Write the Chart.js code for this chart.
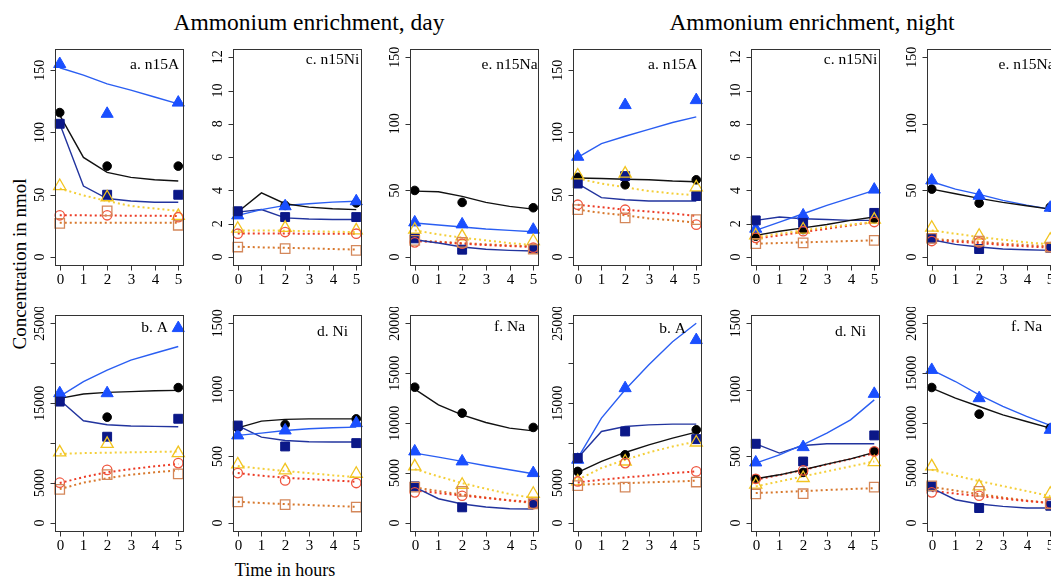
<!DOCTYPE html>
<html><head><meta charset="utf-8">
<script src="https://cdn.jsdelivr.net/npm/chart.js@4"></script>
<style>
body{margin:0;background:#fff;}
#wrap{position:relative;width:1051px;height:581px;overflow:hidden;background:#fff;font-family:"Liberation Serif","Times New Roman",serif;color:#000;}
#wrap canvas{position:absolute;}
.txt{position:absolute;white-space:nowrap;line-height:1;}
</style></head><body>
<div id="wrap">
  <div class="txt" id="tDay" style="left:309px;top:11px;font-size:23.5px;transform:translateX(-50%);">Ammonium enrichment, day</div>
  <div class="txt" id="tNight" style="left:812px;top:11px;font-size:23.5px;transform:translateX(-50%);">Ammonium enrichment, night</div>
  <div class="txt" style="left:19px;top:264px;font-size:19px;transform:translate(-50%,-50%) rotate(-90deg);">Concentration in nmol</div>
  <div class="txt" style="left:285px;top:570px;font-size:18px;transform:translate(-50%,-50%);">Time in hours</div>
</div>
<script>
// ---------- data ----------
const timeObs = [0, 2, 5];
const timeFit = [0, 1, 2, 3, 4, 5];
const xTicks = [0, 1, 2, 3, 4, 5];
const seriesKeys = ['black', 'blue', 'navy', 'gold', 'red', 'orange'];
const panelLabels = ['a. n15A', 'c. n15Ni', 'e. n15Na', 'a. n15A', 'c. n15Ni', 'e. n15Na',
                     'b. A', 'd. Ni', 'f. Na', 'b. A', 'd. Ni', 'f. Na'];

const ticksN15A = [0, 50, 100, 150];
const ticksN15Ni = [0, 2, 4, 6, 8, 10, 12];
const ticksN15Na = [0, 50, 100, 150];
const ticksA = [0, 5000, 10000, 15000, 20000, 25000];
const labelsA = [0, 5000, 15000, 25000];
const ticksNi = [0, 500, 1000, 1500];
const ticksNa = [0, 5000, 10000, 15000, 20000];

// observations at timeObs, order: black, blue, navy, gold, red, orange
const p1Obs = [[116, 73, 73], [155, 115, 124], [107, 50, 50], [57, 48, 33], [33.5, 33.5, 32], [27, 37, 25.5]];
const p1Fit = [[114, 80, 68, 64, 62, 61], [152, 146, 139, 134, 128.5, 123], [107, 57, 47, 45, 44, 44],
               [55, 49.5, 45, 41, 39, 37], [33.5, 33.5, 33.3, 33.2, 33.1, 33], [27.5, 27.5, 27.5, 27.5, 27.5, 27.5]];
const p2Obs = [[2.7, 3.1, 3.25], [2.5, 3.05, 3.35], [2.75, 2.4, 2.4], [1.7, 1.75, 1.6], [1.4, 1.5, 1.4], [0.6, 0.5, 0.4]];
const p2Fit = [[2.7, 3.85, 3.2, 3.0, 2.9, 2.85], [2.5, 2.85, 3.1, 3.2, 3.3, 3.35], [2.7, 2.85, 2.35, 2.28, 2.25, 2.25],
               [1.6, 1.6, 1.58, 1.55, 1.52, 1.5], [1.42, 1.42, 1.41, 1.4, 1.4, 1.4], [0.62, 0.58, 0.55, 0.52, 0.48, 0.45]];
const p3Obs = [[50, 41, 37], [26, 24.5, 20.5], [14, 5.5, 6], [20.5, 15.5, 12], [11, 10, 7], [12.5, 11, 6]];
const p3Fit = [[49.5, 49, 45.5, 41, 38, 36], [25.5, 24, 22.5, 21, 20, 19], [13, 10.5, 7.5, 5.8, 5, 4.5],
               [20, 17, 14.5, 12.5, 10.5, 9], [12, 11, 10, 9, 8.2, 7.5], [12.5, 11.5, 10.5, 9.5, 8.7, 8]];
const p4Obs = [[64, 58, 62], [80.5, 122, 126], [59, 65, 49], [65.5, 67, 56], [42, 38, 26], [38, 31.5, 30]];
const p4Fit = [[63.5, 63, 62.5, 62, 61, 60.5], [80, 91, 97, 102.5, 108, 112.5], [59, 47.7, 46, 45, 45, 45],
               [63, 59, 56, 53, 51, 49.5], [42, 40, 38, 36.5, 35, 33], [38, 35.5, 33.5, 31, 29.5, 27.5]];
const p5Obs = [[1.25, 1.65, 2.3], [1.7, 2.5, 4.05], [2.2, 2.05, 2.65], [1.3, 1.65, 2.25], [1.15, 1.55, 2.1], [0.8, 0.85, 1.0]];
const p5Fit = [[1.3, 1.55, 1.75, 1.95, 2.2, 2.4], [1.6, 2.1, 2.6, 3.1, 3.55, 4.0], [2.2, 2.4, 2.3, 2.25, 2.2, 2.2],
               [1.2, 1.4, 1.6, 1.8, 1.95, 2.1], [1.1, 1.3, 1.5, 1.7, 1.9, 2.1], [0.8, 0.84, 0.88, 0.92, 0.96, 1.0]];
const p6Obs = [[51, 40.5, 37.5], [57.5, 46, 37], [14, 6, 7], [22, 16, 13], [12, 11, 7.5], [14, 12, 7.5]];
const p6Fit = [[51, 47.5, 44, 41, 38.5, 36], [56.5, 51, 47, 42.5, 39, 36], [13, 9.5, 7.5, 6, 5.5, 5],
               [20, 17.5, 15, 13, 11, 9.5], [12.5, 11.5, 10.5, 9, 8, 7], [13.5, 12.5, 11.5, 10, 9, 8]];
const p7Obs = [[15500, 13250, 16950], [16250, 16250, 24400], [15200, 10800, 13050], [8850, 9900, 8750], [5050, 6650, 7500], [4200, 6050, 6150]];
const p7Fit = [[15600, 16150, 16350, 16450, 16550, 16600], [15850, 17700, 19150, 20400, 21250, 22100], [15400, 12800, 12300, 12150, 12100, 12050],
               [8650, 8750, 8800, 8850, 8900, 8950], [5000, 5750, 6350, 6750, 7100, 7400], [4250, 5050, 5600, 6050, 6350, 6600]];
const p8Obs = [[715, 740, 782], [658, 695, 750], [732, 575, 600], [440, 395, 370], [375, 320, 300], [158, 138, 120]];
const p8Fit = [[715, 765, 778, 782, 782, 782], [658, 675, 695, 708, 715, 720], [732, 645, 620, 610, 608, 608],
               [428, 408, 390, 375, 358, 345], [375, 355, 340, 330, 320, 310], [160, 150, 142, 135, 128, 122]];
const p9Obs = [[13600, 11000, 9570], [7170, 6170, 5000], [3670, 1570, 1900], [5670, 3830, 2930], [3070, 2730, 1900], [3600, 3170, 1930]];
const p9Fit = [[13400, 11830, 10830, 10070, 9500, 9230], [7000, 6600, 6170, 5730, 5330, 4930], [3600, 2430, 1900, 1600, 1430, 1400],
               [5400, 4670, 4000, 3430, 2900, 2500], [3270, 3000, 2750, 2500, 2280, 2070], [3570, 3200, 2850, 2550, 2250, 2000]];
const p10Obs = [[6460, 8540, 11670], [7920, 16880, 22900], [8130, 11460, 10500], [5200, 7700, 10080], [5200, 7500, 6460], [4670, 4500, 5130]];
const p10Fit = [[6330, 7710, 8830, 9790, 10630, 11380], [8130, 13130, 16670, 19800, 22700, 25000], [8130, 11460, 12080, 12290, 12380, 12380],
                [5420, 6880, 7920, 8830, 9580, 10200], [5080, 5420, 5700, 5960, 6250, 6460], [4790, 4890, 4990, 5090, 5190, 5290]];
const p11Obs = [[332, 380, 538], [455, 570, 970], [595, 462, 658], [288, 338, 458], [332, 395, 538], [218, 220, 270]];
const p11Fit = [[332, 362, 400, 442, 482, 530], [450, 512, 588, 675, 775, 925], [595, 525, 582, 595, 595, 595],
                [275, 312, 350, 388, 425, 462], [325, 360, 398, 440, 480, 525], [225, 232, 240, 248, 255, 262]];
const p12Obs = [[13570, 10900, 9500], [15330, 12500, 9330], [3670, 1500, 1730], [5670, 3670, 2930], [3070, 2730, 1930], [3730, 3170, 1930]];
const p12Fit = [[13500, 12500, 11670, 10830, 10170, 9500], [15330, 14170, 12830, 11670, 10670, 9770], [3500, 2330, 1900, 1670, 1500, 1500],
                [5330, 4750, 4200, 3700, 3200, 2700], [3200, 2950, 2700, 2450, 2200, 2000], [3600, 3250, 2900, 2550, 2250, 2000]];

// ---------- styles / layout ----------
const styles = {
  black:  {shape: 'circle',   r: 4.3, fill: '#000000', stroke: '#000000', bw: 1,   line: '#111111', dash: [],     lw: 1.4},
  blue:   {shape: 'triangle', r: 7,   fill: '#1a4fff', stroke: '#1a4fff', bw: 1,   line: '#2a5ef2', dash: [],     lw: 1.4},
  navy:   {shape: 'rect',     r: 6.3, fill: '#0b1888', stroke: '#0b1888', bw: 1,   line: '#22349e', dash: [],     lw: 1.4},
  gold:   {shape: 'triangle', r: 7,   fill: 'rgba(0,0,0,0)', stroke: '#f2c420', bw: 1.3, line: '#f4cf3a', dash: [2, 3], lw: 2},
  red:    {shape: 'circle',   r: 4.7, fill: 'rgba(0,0,0,0)', stroke: '#f0563f', bw: 1.3, line: '#ec3a24', dash: [2, 3], lw: 2},
  orange: {shape: 'rect',     r: 6.7, fill: 'rgba(0,0,0,0)', stroke: '#d4875a', bw: 1.3, line: '#d8782c', dash: [2, 3], lw: 2}
};
const BOX_W = 128, BOX_H = 216;
const colLefts = [55, 233, 410, 573, 751, 927];
const rowTops = [49, 315];

const panels = [
  {obs: p1Obs, fit: p1Fit, ticks: ticksN15A, labels: ticksN15A, min: -6.4, max: 166.8, lab: 16},
  {obs: p2Obs, fit: p2Fit, ticks: ticksN15Ni, labels: ticksN15Ni, min: -0.48, max: 12.48, lab: 11},
  {obs: p3Obs, fit: p3Fit, ticks: ticksN15Na, labels: ticksN15Na, min: -6, max: 156, lab: 16},
  {obs: p4Obs, fit: p4Fit, ticks: ticksN15A, labels: ticksN15A, min: -6.4, max: 166.8, lab: 16},
  {obs: p5Obs, fit: p5Fit, ticks: ticksN15Ni, labels: ticksN15Ni, min: -0.48, max: 12.48, lab: 11},
  {obs: p6Obs, fit: p6Fit, ticks: ticksN15Na, labels: ticksN15Na, min: -6, max: 156, lab: 16},
  {obs: p7Obs, fit: p7Fit, ticks: ticksA, labels: labelsA, min: -1000, max: 26000, lab: 13},
  {obs: p8Obs, fit: p8Fit, ticks: ticksNi, labels: ticksNi, min: -60, max: 1560, lab: 17},
  {obs: p9Obs, fit: p9Fit, ticks: ticksNa, labels: ticksNa, min: -800, max: 20800, lab: 12},
  {obs: p10Obs, fit: p10Fit, ticks: ticksA, labels: labelsA, min: -1000, max: 26000, lab: 14},
  {obs: p11Obs, fit: p11Fit, ticks: ticksNi, labels: ticksNi, min: -60, max: 1560, lab: 17},
  {obs: p12Obs, fit: p12Fit, ticks: ticksNa, labels: ticksNa, min: -800, max: 20800, lab: 12}
];

const PAD = {left: 52, right: 10, top: 8, bottom: 32};
const FONT = '"Liberation Serif", "Times New Roman", serif';
const wrap = document.getElementById('wrap');

panels.forEach((P, i) => {
  const col = i % 6, row = Math.floor(i / 6);
  const cv = document.createElement('canvas');
  cv.width = BOX_W + PAD.left + PAD.right;
  cv.height = BOX_H + PAD.top + PAD.bottom;
  cv.style.left = (colLefts[col] - PAD.left) + 'px';
  cv.style.top = (rowTops[row] - PAD.top) + 'px';
  cv.style.width = cv.width + 'px';
  cv.style.height = cv.height + 'px';
  wrap.appendChild(cv);

  const datasets = [];
  seriesKeys.forEach((k, s) => {
    const st = styles[k];
    datasets.push({
      label: k + ' model',
      data: timeFit.map((t, j) => ({x: t, y: P.fit[s][j]})),
      showLine: true, pointRadius: 0, borderColor: st.line, borderWidth: st.lw,
      borderDash: st.dash, tension: 0, fill: false, order: 10, clip: false
    });
  });
  seriesKeys.forEach((k, s) => {
    const st = styles[k];
    datasets.push({
      label: k + ' obs',
      data: timeObs.map((t, j) => ({x: t, y: P.obs[s][j]})),
      showLine: false, pointStyle: st.shape, pointRadius: st.r,
      pointBackgroundColor: st.fill, pointBorderColor: st.stroke, pointBorderWidth: st.bw,
      backgroundColor: st.fill, borderColor: st.stroke, order: 6 - s, clip: false
    });
  });

  const rAxes = {
    id: 'rAxes' + i,
    afterDraw(chart) {
      const {ctx, chartArea: a, scales} = chart;
      const xs = scales.x, ys = scales.y;
      ctx.save();
      ctx.strokeStyle = '#333';
      ctx.lineWidth = 1;
      ctx.setLineDash([]);
      ctx.strokeRect(Math.round(a.left) + 0.5, Math.round(a.top) + 0.5, Math.round(a.right - a.left), Math.round(a.bottom - a.top));
      ctx.fillStyle = '#000';
      // x ticks
      ctx.font = '15px ' + FONT;
      ctx.textAlign = 'center';
      ctx.textBaseline = 'middle';
      const yb = Math.round(a.bottom) + 0.5;
      xTicks.forEach(v => {
        const px = Math.round(xs.getPixelForValue(v)) + 0.5;
        ctx.beginPath(); ctx.moveTo(px, yb); ctx.lineTo(px, yb + 5); ctx.stroke();
        ctx.fillText(String(v), px, a.bottom + 15);
      });
      // y ticks
      const xl = Math.round(a.left) + 0.5;
      ctx.font = '14px ' + FONT;
      P.ticks.forEach(v => {
        const py = Math.round(ys.getPixelForValue(v)) + 0.5;
        ctx.beginPath(); ctx.moveTo(xl, py); ctx.lineTo(xl - 5, py); ctx.stroke();
      });
      P.labels.forEach(v => {
        const py = ys.getPixelForValue(v);
        ctx.save();
        ctx.translate(a.left - 15, py);
        ctx.rotate(-Math.PI / 2);
        ctx.fillText(String(v), 0, 0);
        ctx.restore();
      });
      // panel label
      ctx.font = '15.5px ' + FONT;
      ctx.fillText(panelLabels[i], xs.getPixelForValue(4), a.top + P.lab);
      ctx.restore();
    }
  };

  new Chart(cv, {
    type: 'scatter',
    data: {datasets},
    options: {
      responsive: false, animation: false, devicePixelRatio: 1,
      layout: {padding: PAD},
      plugins: {legend: {display: false}, tooltip: {enabled: false}, title: {display: false}},
      events: [],
      scales: {
        x: {type: 'linear', min: -0.2, max: 5.2, display: false},
        y: {type: 'linear', min: P.min, max: P.max, display: false}
      }
    },
    plugins: [rAxes]
  });
});
</script>
</body></html>
